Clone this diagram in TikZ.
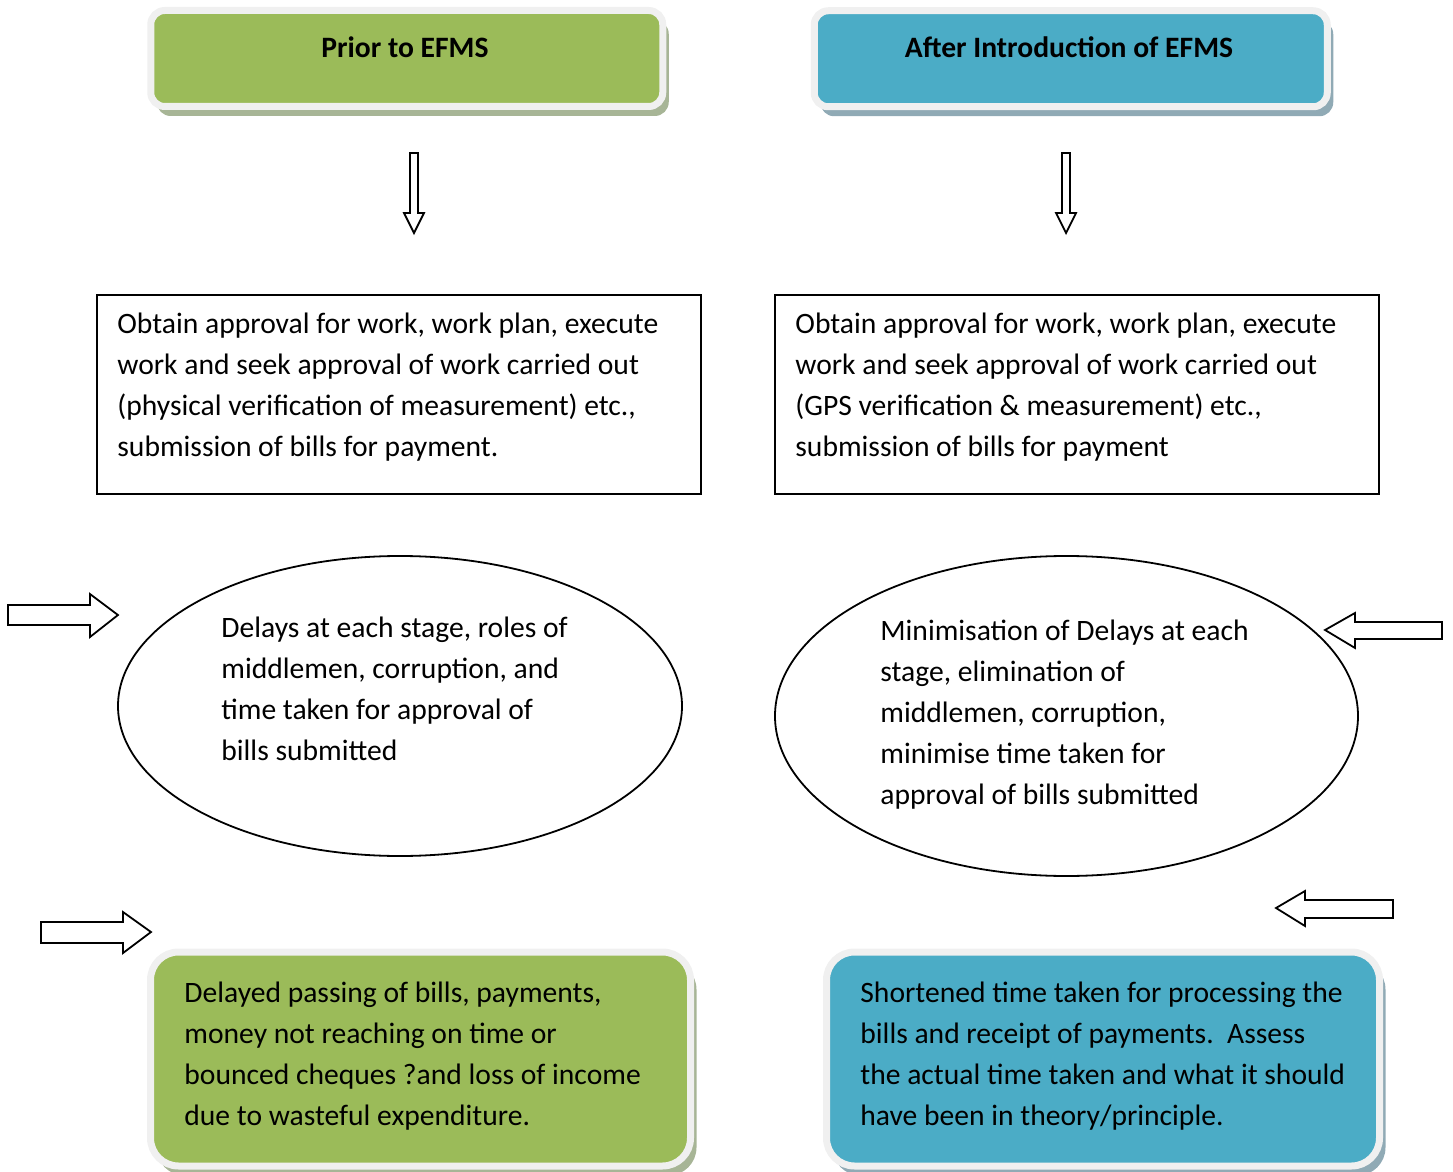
\documentclass[tikz,border=0pt]{standalone}
\usepackage{fontspec}
\setmainfont{Carlito}
\usetikzlibrary{shapes.geometric,shadows}
\definecolor{efgreen}{HTML}{9BBB59}
\definecolor{efblue}{HTML}{4BACC6}
\definecolor{greenshade}{HTML}{A7B596}
\definecolor{blueshade}{HTML}{90AAB5}
\definecolor{rimgray}{HTML}{F0F0F0}
\begin{document}
\begin{tikzpicture}[x=0.5pt,y=-0.5pt,
    txt/.style={align=left, inner sep=0pt, font=\fontsize{14.8}{20.5}\selectfont},
    headtxt/.style={inner sep=0pt, font=\fontsize{14.8}{17}\selectfont\bfseries},
    rimbox/.style={draw=rimgray, line width=3.5pt, inner sep=0pt,
        general shadow={fill=#1, shadow xshift=3pt, shadow yshift=-4.75pt}},
    blockarrow/.style={draw, line width=0.9pt, fill=white, line join=miter}]
    \useasboundingbox (0,0) rectangle (1453,1172);
    % headers
    \node[rimbox=greenshade, fill=efgreen, rounded corners=7pt,
        minimum width=256pt, minimum height=48pt] (priorbox) at (406.75,58.5) {};
    \node[headtxt] (prior) at (405,47) {Prior to EFMS};
    \node[rimbox=blueshade, fill=efblue, rounded corners=7pt,
        minimum width=256.5pt, minimum height=48pt] (afterbox) at (1070.75,58.75) {};
    \node[headtxt] (after) at (1069,47) {After Introduction of EFMS};
    % down arrows
    \draw[blockarrow] (410,153) -- (418,153) -- (418,213) -- (424,213) -- (414,233)
        -- (404,213) -- (410,213) -- cycle;
    \draw[blockarrow] (1062,153) -- (1070,153) -- (1070,213) -- (1076,213) -- (1066,233)
        -- (1056,213) -- (1062,213) -- cycle;
    % work boxes
    \node[draw, line width=1pt, minimum width=302pt, minimum height=99.5pt] (leftrect) at (399,394.5) {};
    \node[txt, anchor=north west] (leftwork) at (117,313) {Obtain approval for work, work plan, execute\\
        work and seek approval of work carried out\\
        (physical verification of measurement) etc.,\\
        submission of bills for payment.};
    \node[draw, line width=1pt, minimum width=302pt, minimum height=99.5pt] (rightrect) at (1077,394.5) {};
    \node[txt, anchor=north west] (rightwork) at (795,313) {Obtain approval for work, work plan, execute\\
        work and seek approval of work carried out\\
        (GPS verification \& measurement) etc.,\\
        submission of bills for payment};
    % ellipses
    \node[ellipse, draw, line width=0.9pt, inner sep=0pt, minimum width=282pt, minimum height=150pt] (leftell) at (400,706) {};
    \node[txt, anchor=north west] (delays) at (221,617) {Delays at each stage, roles of\\
        middlemen, corruption, and\\
        time taken for approval of\\
        bills submitted};
    \node[ellipse, draw, line width=0.9pt, inner sep=0pt, minimum width=291.5pt, minimum height=160pt] (rightell) at (1066.5,716) {};
    \node[txt, anchor=north west] (minimise) at (880,620) {Minimisation of Delays at each\\
        stage, elimination of\\
        middlemen, corruption,\\
        minimise time taken for\\
        approval of bills submitted};
    % side arrows
    \draw[blockarrow] (8,605) -- (90,605) -- (90,594) -- (118,615) -- (90,637) -- (90,625) -- (8,625) -- cycle;
    \draw[blockarrow] (41,922) -- (123,922) -- (123,912) -- (151,932) -- (123,953) -- (123,943) -- (41,943) -- cycle;
    \draw[blockarrow] (1442,622) -- (1355,622) -- (1355,613) -- (1325,630) -- (1355,648) -- (1355,639) -- (1442,639) -- cycle;
    \draw[blockarrow] (1393,900) -- (1305,900) -- (1305,891) -- (1276,908) -- (1305,926) -- (1305,918) -- (1393,918) -- cycle;
    % outcomes
    \node[rimbox=greenshade, fill=efgreen, rounded corners=14pt,
        minimum width=270pt, minimum height=107pt] (leftout) at (420.5,1059) {};
    \node[txt, anchor=north west] (delayed) at (184,982) {Delayed passing of bills, payments,\\
        money not reaching on time or\\
        bounced cheques ?and loss of income\\
        due to wasteful expenditure.};
    \node[rimbox=blueshade, fill=efblue, rounded corners=14pt,
        minimum width=276.5pt, minimum height=107pt] (rightout) at (1103,1059) {};
    \node[txt, anchor=north west] (shortened) at (860,982) {Shortened time taken for processing the\\
        bills and receipt of payments.\ \ Assess\\
        the actual time taken and what it should\\
        have been in theory/principle.};
\end{tikzpicture}
\end{document}
